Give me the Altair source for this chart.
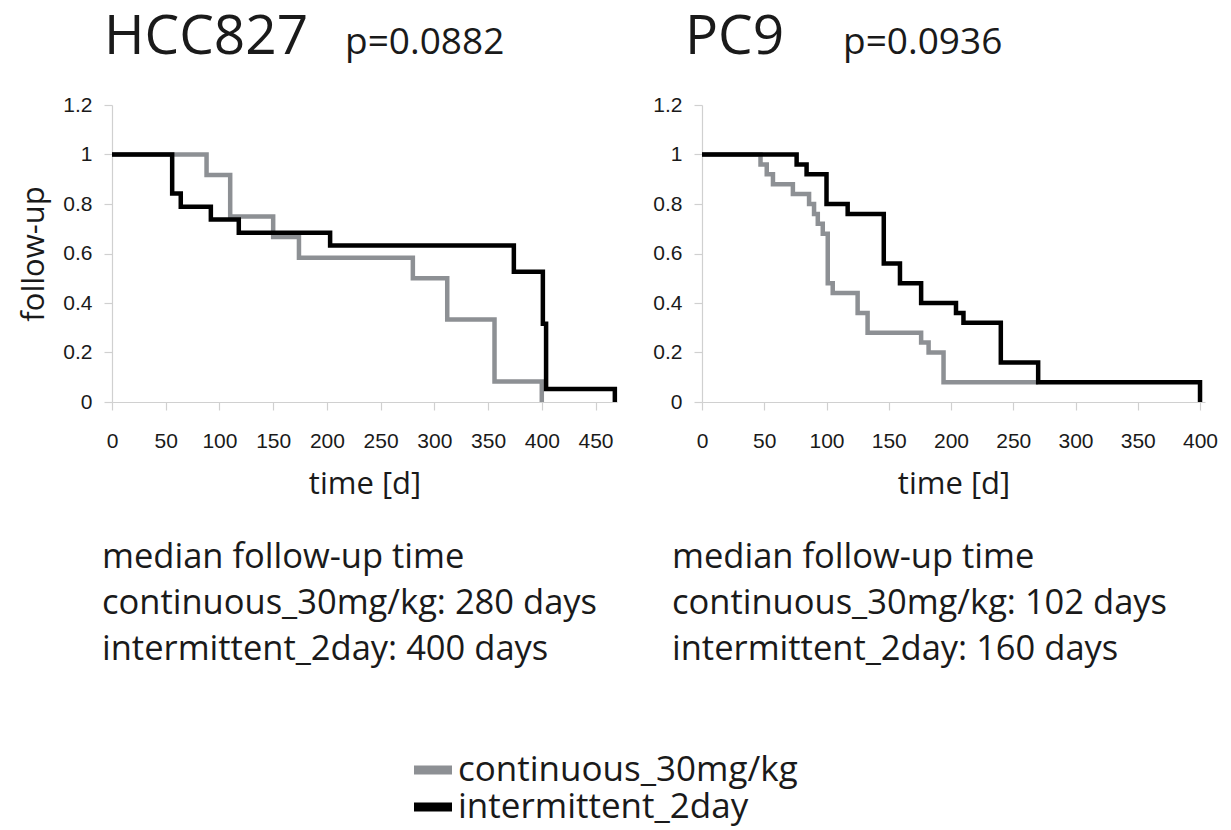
import altair as alt
import pandas as pd

# ---------------- data ----------------
series_names = ["continuous_30mg/kg", "intermittent_2day"]
series_colors = ["#8d9094", "#000000"]

# HCC827 (Kaplan-Meier style step curves)
hcc_cont_t = [0, 88, 110, 150, 174, 280, 312, 356, 400]
hcc_cont_s = [1.0, 0.917, 0.75, 0.667, 0.583, 0.5, 0.333, 0.083, 0.0]
hcc_int_t = [0, 56, 64, 92, 118, 203, 374, 401, 404, 468]
hcc_int_s = [1.0, 0.842, 0.789, 0.737, 0.684, 0.632, 0.526, 0.316, 0.053, 0.0]

# PC9
pc9_cont_t = [0, 47, 52, 57, 73, 86, 90, 93, 97, 101, 105, 125, 133, 176, 182, 194, 270]
pc9_cont_s = [1.0, 0.96, 0.92, 0.88, 0.84, 0.80, 0.76, 0.72, 0.68, 0.48, 0.44, 0.36, 0.28, 0.24, 0.20, 0.08, 0.08]
pc9_int_t = [0, 76, 84, 100, 117, 146, 159, 176, 204, 210, 240, 270, 400]
pc9_int_s = [1.0, 0.96, 0.92, 0.80, 0.76, 0.56, 0.48, 0.40, 0.36, 0.32, 0.16, 0.08, 0.0]

y_ticks = [0, 0.2, 0.4, 0.6, 0.8, 1.0, 1.2]
hcc_x_ticks = [0, 50, 100, 150, 200, 250, 300, 350, 400, 450]
pc9_x_ticks = [0, 50, 100, 150, 200, 250, 300, 350, 400]

hcc_title, hcc_p = "HCC827", "p=0.0882"
pc9_title, pc9_p = "PC9", "p=0.0936"
hcc_lines = ["median follow-up time", "continuous_30mg/kg: 280 days", "intermittent_2day: 400 days"]
pc9_lines = ["median follow-up time", "continuous_30mg/kg: 102 days", "intermittent_2day: 160 days"]

TEXT_FONT = "Open Sans"
TICK_FONT = "Liberation Sans"
INK = "#1a1a1a"
AXIS_GREY = "#d0d0d0"

PLOT_H = 297


def frame(times, surv, name):
    return pd.DataFrame({"time": times, "surv": surv, "series": name})


def panel(cont_t, cont_s, int_t, int_s, x_max, x_ticks, width, title, pval, lines,
          y_title, title_x, p_x, text_x):
    x_axis = alt.Axis(values=x_ticks, title="time [d]", grid=False, labelFlush=False,
                      labelPadding=20, titlePadding=18)
    y_kwargs = dict(values=y_ticks, format="~g", grid=False, labelPadding=12, titlePadding=12)
    if y_title:
        y_axis = alt.Axis(title=y_title, **y_kwargs)
    else:
        y_axis = alt.Axis(title="", **y_kwargs)
    x = alt.X("time:Q", scale=alt.Scale(domain=[0, x_max], nice=False, zero=True), axis=x_axis)
    y = alt.Y("surv:Q", scale=alt.Scale(domain=[0, 1.2], nice=False), axis=y_axis)
    color = alt.Color(
        "series:N",
        scale=alt.Scale(domain=series_names, range=series_colors),
        legend=alt.Legend(
            title=None, orient="none", legendX=302, legendY=646, direction="vertical",
            labelFont=TEXT_FONT, labelFontSize=35, labelColor=INK, labelLimit=600,
            symbolType="M-1,-0.12H1V0.12H-1Z", symbolSize=1089, symbolStrokeWidth=5,
            rowPadding=0, labelOffset=6, padding=0,
        ),
    )
    gray = alt.Chart(frame(cont_t, cont_s, series_names[0])).mark_line(
        interpolate="step-after", strokeWidth=4.5, strokeJoin="miter", strokeCap="butt"
    ).encode(x=x, y=y, color=color)
    black = alt.Chart(frame(int_t, int_s, series_names[1])).mark_line(
        interpolate="step-after", strokeWidth=4.5, strokeJoin="miter", strokeCap="butt"
    ).encode(x=x, y=y, color=color)

    one = pd.DataFrame({"k": [0]})
    t_main = alt.Chart(one).mark_text(
        text=title, font=TEXT_FONT, fontSize=55, color=INK, align="left", baseline="alphabetic"
    ).encode(x=alt.value(title_x), y=alt.value(-51))
    t_p = alt.Chart(one).mark_text(
        text=pval, font=TEXT_FONT, fontSize=37, color=INK, align="left", baseline="alphabetic"
    ).encode(x=alt.value(p_x), y=alt.value(-51))
    t_block = alt.Chart(one).mark_text(
        text=lines, font=TEXT_FONT, fontSize=34.5, color=INK, align="left",
        baseline="alphabetic", lineHeight=46
    ).encode(x=alt.value(text_x), y=alt.value(463))

    return alt.layer(gray, black, t_main, t_p, t_block).properties(width=width, height=PLOT_H)


left = panel(hcc_cont_t, hcc_cont_s, hcc_int_t, hcc_int_s, 470, hcc_x_ticks, 505,
             hcc_title, hcc_p, hcc_lines, "follow-up", -8, 233, -10)
right = panel(pc9_cont_t, pc9_cont_s, pc9_int_t, pc9_int_s, 404, pc9_x_ticks, 503,
              pc9_title, pc9_p, pc9_lines, None, -17, 141, -30)

chart = (
    alt.hconcat(left, right, spacing=28)
    .properties(padding={"left": 18, "top": 10, "right": 10, "bottom": 5}, background="white")
    .configure_view(stroke=None)
    .configure_axis(
        domainColor=AXIS_GREY, tickColor=AXIS_GREY, tickSize=8, domainWidth=1.2, tickWidth=1.2,
        labelFont=TICK_FONT, labelFontSize=21, labelColor=INK,
        titleFont=TEXT_FONT, titleFontSize=31, titleFontWeight="normal", titleColor=INK,
    )
)

chart.save("out.html", embed_options={"renderer": "svg", "actions": False})
